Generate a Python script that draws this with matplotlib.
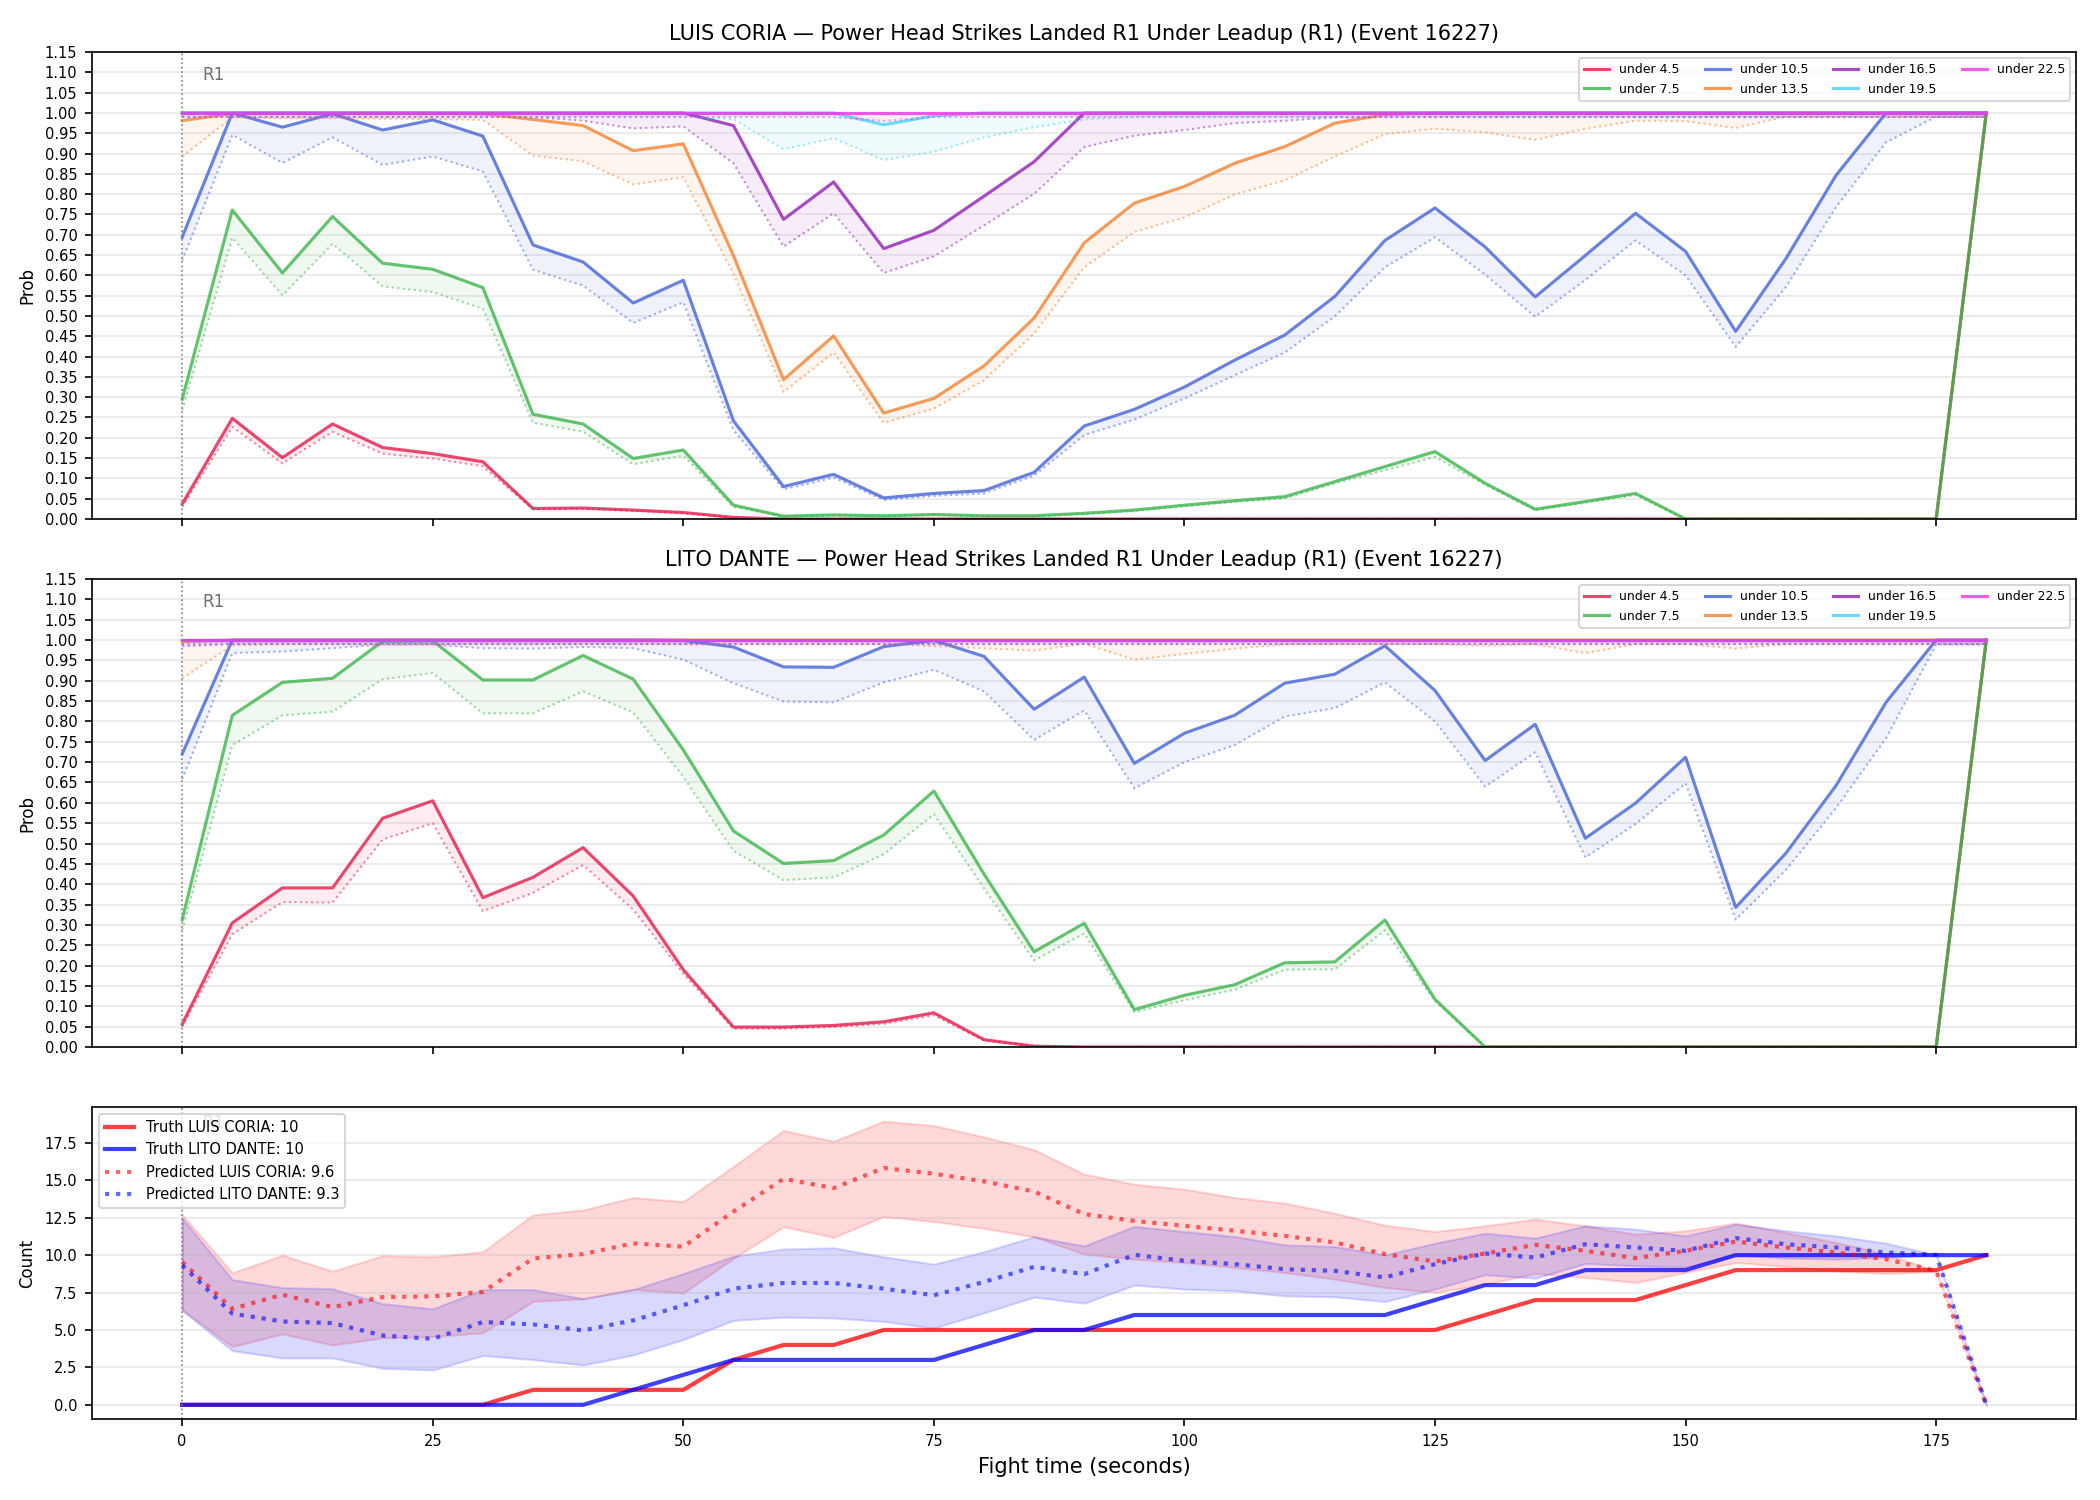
import matplotlib
matplotlib.use("Agg")
import matplotlib.pyplot as plt
from matplotlib.ticker import MultipleLocator
import numpy as np

# ---------------- data ----------------
t = list(range(0, 181, 5))

thresholds = ["under 4.5", "under 7.5", "under 10.5", "under 13.5",
              "under 16.5", "under 19.5", "under 22.5"]
colors = ["#e6194b", "#3cb44b", "#4363d8", "#f58231", "#911eb4", "#42d4f4", "#f032e6"]

# LUIS CORIA: solid (main) and dotted (lower) probabilities
coria_u45 = [0.037, 0.248, 0.151, 0.234, 0.176, 0.161, 0.141, 0.026, 0.027, 0.022, 0.016, 0.004] + [0.0] * 24 + [1.0]
coria_u45_lo = [0.030, 0.227, 0.137, 0.215, 0.161, 0.149, 0.130, 0.024, 0.025, 0.020, 0.014, 0.003] + [0.0] * 24 + [0.99]
coria_u75 = [0.295, 0.761, 0.606, 0.745, 0.630, 0.615, 0.570, 0.258, 0.234, 0.149, 0.170, 0.034,
             0.007, 0.010, 0.008, 0.011, 0.008, 0.008,
             0.014, 0.022, 0.034, 0.045, 0.055, 0.092, 0.129, 0.166, 0.088, 0.024, 0.043, 0.063,
             0.0, 0.0, 0.0, 0.0, 0.0, 0.0, 1.0]
coria_u75_lo = [0.268, 0.693, 0.551, 0.678, 0.573, 0.559, 0.518, 0.237, 0.215, 0.135, 0.156, 0.030,
                0.006, 0.009, 0.007, 0.010, 0.007, 0.007,
                0.012, 0.020, 0.031, 0.042, 0.051, 0.088, 0.120, 0.153, 0.084, 0.022, 0.040, 0.059,
                0.0, 0.0, 0.0, 0.0, 0.0, 0.0, 0.99]
coria_u105 = [0.694, 1.0, 0.965, 0.998, 0.958, 0.983, 0.943, 0.675, 0.633, 0.532, 0.588, 0.242,
              0.080, 0.110, 0.052, 0.063, 0.070, 0.115,
              0.229, 0.270, 0.325, 0.391, 0.453, 0.548, 0.686, 0.766, 0.670, 0.547, 0.649, 0.753,
              0.659, 0.462, 0.641, 0.846, 1.0, 1.0, 1.0]
coria_u105_lo = [0.637, 0.946, 0.877, 0.940, 0.872, 0.893, 0.856, 0.614, 0.575, 0.483, 0.534, 0.219,
                 0.073, 0.102, 0.047, 0.057, 0.063, 0.107,
                 0.207, 0.245, 0.297, 0.354, 0.410, 0.499, 0.620, 0.694, 0.602, 0.498, 0.589, 0.686,
                 0.600, 0.424, 0.571, 0.768, 0.928, 0.991, 0.991]
coria_u135 = [0.981, 0.999, 0.999, 0.999, 0.999, 0.999, 0.998, 0.984, 0.969, 0.907, 0.924, 0.649,
              0.343, 0.451, 0.261, 0.297, 0.377, 0.495,
              0.680, 0.778, 0.819, 0.876, 0.917, 0.975, 0.996] + [1.0] * 12
coria_u135_lo = [0.893, 0.989, 0.987, 0.987, 0.986, 0.985, 0.983, 0.895, 0.881, 0.824, 0.842, 0.604,
                 0.313, 0.410, 0.237, 0.272, 0.342, 0.457,
                 0.620, 0.707, 0.743, 0.799, 0.834, 0.893, 0.948, 0.961, 0.952, 0.934, 0.961, 0.981,
                 0.980, 0.963, 0.991, 0.991, 0.991, 0.991, 0.991]
coria_u165 = [1.0] * 11 + [0.969, 0.738, 0.830, 0.666, 0.711, 0.795, 0.880] + [1.0] * 19
coria_u165_lo = [0.99] * 8 + [0.981, 0.962, 0.967, 0.876, 0.671, 0.753, 0.606, 0.647, 0.723, 0.801,
                              0.916, 0.944, 0.958, 0.975, 0.981, 0.989] + [0.99] * 13
coria_u195 = [1.0] * 14 + [0.971, 0.993] + [1.0] * 21
coria_u195_lo = [0.99] * 11 + [0.985, 0.911, 0.938, 0.884, 0.905, 0.940, 0.965, 0.984] + [0.99] * 18
coria_u225 = [1.0] * 37
coria_u225_lo = [0.99] * 14 + [0.98] + [0.99] * 22

# LITO DANTE
dante_u45 = [0.056, 0.305, 0.391, 0.391, 0.562, 0.605, 0.367, 0.417, 0.490, 0.371, 0.190, 0.049,
             0.049, 0.053, 0.062, 0.084, 0.018, 0.002] + [0.0] * 18 + [1.0]
dante_u45_lo = [0.050, 0.277, 0.356, 0.355, 0.510, 0.550, 0.334, 0.379, 0.447, 0.338, 0.180, 0.045,
                0.045, 0.049, 0.057, 0.078, 0.016, 0.002] + [0.0] * 18 + [0.99]
dante_u75 = [0.313, 0.815, 0.896, 0.906, 0.997, 0.998, 0.902, 0.902, 0.962, 0.904, 0.730, 0.531,
             0.451, 0.458, 0.521, 0.629, 0.425, 0.234,
             0.304, 0.092, 0.127, 0.153, 0.207, 0.209, 0.312, 0.117] + [0.0] * 10 + [1.0]
dante_u75_lo = [0.287, 0.742, 0.815, 0.824, 0.904, 0.919, 0.820, 0.820, 0.874, 0.822, 0.664, 0.482,
                0.410, 0.417, 0.474, 0.572, 0.390, 0.213,
                0.279, 0.086, 0.115, 0.141, 0.190, 0.191, 0.287, 0.113] + [0.0] * 10 + [0.99]
dante_u105 = [0.720, 1.0, 1.0, 1.0, 1.0, 1.0, 1.0, 1.0, 1.0, 1.0, 0.999, 0.983,
              0.934, 0.933, 0.984, 0.999, 0.960, 0.830,
              0.909, 0.697, 0.771, 0.815, 0.894, 0.916, 0.986, 0.876, 0.704, 0.793, 0.513, 0.599,
              0.712, 0.343, 0.476, 0.642, 0.847, 1.0, 1.0]
dante_u105_lo = [0.658, 0.968, 0.972, 0.980, 0.989, 0.989, 0.980, 0.979, 0.983, 0.980, 0.952, 0.894,
                 0.849, 0.847, 0.896, 0.927, 0.874, 0.755,
                 0.827, 0.636, 0.700, 0.742, 0.812, 0.833, 0.896, 0.800, 0.640, 0.724, 0.466, 0.548,
                 0.648, 0.313, 0.435, 0.587, 0.759, 0.989, 0.989]
dante_u135 = [0.997] + [1.0] * 36
dante_u135_lo = [0.906, 0.987, 0.99, 0.99, 0.99, 0.99, 0.99, 0.99, 0.99, 0.99, 0.99, 0.99,
                 0.99, 0.99, 0.99, 0.985, 0.980, 0.974,
                 0.991, 0.952, 0.966, 0.979, 0.989, 0.99, 0.99, 0.99, 0.986, 0.99, 0.968, 0.99,
                 0.99, 0.979, 0.99, 0.99, 0.99, 0.99, 0.99]
dante_u165 = [1.0] * 37
dante_u165_lo = [0.985] + [0.99] * 36
dante_u195 = [1.0] * 37
dante_u195_lo = [0.99] * 37
dante_u225 = [1.0] * 37
dante_u225_lo = [0.99] * 37

# Counts
truth_coria = [0, 0, 0, 0, 0, 0, 0, 1, 1, 1, 1, 3, 4, 4, 5, 5, 5, 5, 5, 5, 5, 5, 5, 5, 5, 5,
               6, 7, 7, 7, 8, 9, 9, 9, 9, 9, 10]
truth_dante = [0, 0, 0, 0, 0, 0, 0, 0, 0, 1, 2, 3, 3, 3, 3, 3, 4, 5, 5, 6, 6, 6, 6, 6, 6, 7,
               8, 8, 9, 9, 9, 10, 10, 10, 10, 10, 10]
pred_coria = [9.55, 6.42, 7.36, 6.53, 7.20, 7.25, 7.54, 9.78, 10.07, 10.79, 10.56, 12.91,
              15.10, 14.48, 15.82, 15.44, 14.93, 14.25,
              12.74, 12.29, 11.96, 11.63, 11.29, 10.85, 10.07, 9.58, 10.11, 10.69, 10.29, 9.80,
              10.29, 10.91, 10.51, 10.18, 9.73, 8.95, 0.0]
pred_coria_hi = [12.69, 8.82, 10.0, 8.93, 9.96, 9.89, 10.23, 12.69, 13.02, 13.85, 13.58, 15.93,
                 18.33, 17.61, 18.95, 18.66, 17.90, 17.05,
                 15.41, 14.74, 14.41, 13.85, 13.47, 12.80, 12.0, 11.58, 11.96, 12.41, 11.96, 11.40,
                 11.63, 12.14, 11.51, 10.85, 10.07, 8.95, 0.0]
pred_coria_lo = [6.35, 3.89, 4.74, 4.0, 4.47, 4.56, 4.81, 6.91, 7.09, 7.70, 7.47, 9.78,
                 11.90, 11.19, 12.58, 12.24, 11.79, 11.23,
                 10.07, 9.73, 9.51, 9.18, 8.84, 8.40, 7.84, 7.51, 8.06, 8.77, 8.51, 8.17,
                 8.84, 9.51, 9.24, 8.95, 8.77, 8.91, 0.0]
pred_dante = [9.33, 6.09, 5.57, 5.46, 4.63, 4.41, 5.53, 5.37, 4.97, 5.64, 6.65, 7.76,
              8.14, 8.14, 7.76, 7.32, 8.21, 9.22,
              8.73, 10.02, 9.62, 9.40, 9.06, 8.95, 8.51, 9.40, 10.11, 9.84, 10.73, 10.51,
              10.29, 11.14, 10.73, 10.51, 10.18, 10.02, 0.0]
pred_dante_hi = [12.46, 8.37, 7.83, 7.76, 6.76, 6.42, 7.70, 7.70, 7.09, 7.70, 8.77, 9.93,
                 10.41, 10.49, 9.89, 9.40, 10.23, 11.23,
                 10.62, 11.92, 11.58, 11.25, 10.69, 10.58, 10.02, 10.80, 11.47, 11.14, 11.96, 11.74,
                 11.29, 12.07, 11.63, 11.29, 10.80, 10.02, 0.0]
pred_dante_lo = [6.31, 3.62, 3.13, 3.13, 2.44, 2.33, 3.29, 3.02, 2.66, 3.33, 4.36, 5.64,
                 5.86, 5.80, 5.57, 5.12, 6.15, 7.20,
                 6.79, 8.0, 7.73, 7.62, 7.28, 7.22, 6.90, 7.73, 8.69, 8.46, 9.44, 9.29,
                 9.18, 10.02, 9.80, 9.73, 9.84, 10.02, 0.0]

coria_main = [coria_u45, coria_u75, coria_u105, coria_u135, coria_u165, coria_u195, coria_u225]
coria_low = [coria_u45_lo, coria_u75_lo, coria_u105_lo, coria_u135_lo, coria_u165_lo, coria_u195_lo, coria_u225_lo]
dante_main = [dante_u45, dante_u75, dante_u105, dante_u135, dante_u165, dante_u195, dante_u225]
dante_low = [dante_u45_lo, dante_u75_lo, dante_u105_lo, dante_u135_lo, dante_u165_lo, dante_u195_lo, dante_u225_lo]

# ---------------- figure ----------------
fig = plt.figure(figsize=(14, 10), dpi=150)
L, W = 0.0438, 0.945
ax1 = fig.add_axes([L, 0.654, W, 0.3113])
ax2 = fig.add_axes([L, 0.302, W, 0.312], sharex=ax1)
ax3 = fig.add_axes([L, 0.054, W, 0.208], sharex=ax1)


def prob_panel(ax, mains, lows, title):
    for name, c, m, lo in zip(thresholds, colors, mains, lows):
        ax.fill_between(t, lo, m, color=c, alpha=0.08, linewidth=0)
        ax.plot(t, m, color=c, lw=1.5, alpha=0.8, label=name)
        ax.plot(t, lo, color=c, lw=1.0, alpha=0.5, linestyle=":")
    ax.set_ylim(0, 1.15)
    ax.yaxis.set_major_locator(MultipleLocator(0.05))
    ax.set_ylabel("Prob", fontsize=8)
    ax.set_title(title, fontsize=10)
    ax.grid(axis="y", alpha=0.3)
    ax.axvline(0, color="gray", linestyle=":", lw=0.8)
    ax.text(2, 0.95, "R1", transform=ax.get_xaxis_transform(), color="#707070",
            fontsize=8, va="center", ha="left")
    ax.tick_params(labelsize=7)
    ax.tick_params(axis="x", labelbottom=False)
    ax.legend(loc="upper right", ncol=4, fontsize=6, framealpha=0.8)


prob_panel(ax1, coria_main, coria_low,
           "LUIS CORIA — Power Head Strikes Landed R1 Under Leadup (R1) (Event 16227)")
prob_panel(ax2, dante_main, dante_low,
           "LITO DANTE — Power Head Strikes Landed R1 Under Leadup (R1) (Event 16227)")

ax3.fill_between(t, pred_coria_lo, pred_coria_hi, color="red", alpha=0.15)
ax3.fill_between(t, pred_dante_lo, pred_dante_hi, color="blue", alpha=0.15)
ax3.plot(t, truth_coria, color="red", lw=2, alpha=0.75, label="Truth LUIS CORIA: 10")
ax3.plot(t, truth_dante, color="blue", lw=2, alpha=0.75, label="Truth LITO DANTE: 10")
ax3.plot(t, pred_coria, color="red", lw=2, alpha=0.6, linestyle=":", label="Predicted LUIS CORIA: 9.6")
ax3.plot(t, pred_dante, color="blue", lw=2, alpha=0.6, linestyle=":", label="Predicted LITO DANTE: 9.3")
ax3.axvline(0, color="gray", linestyle=":", lw=0.8)
ax3.text(2, 0.95, "R1", transform=ax3.get_xaxis_transform(), color="#707070",
         fontsize=8, va="center", ha="left")
ax3.yaxis.set_major_locator(MultipleLocator(2.5))
ax3.set_ylabel("Count", fontsize=8)
ax3.set_xlabel("Fight time (seconds)", fontsize=10)
ax3.grid(axis="y", alpha=0.3)
ax3.tick_params(labelsize=7)
ax3.legend(loc="upper left", fontsize=7, framealpha=0.8)

fig.savefig("out.png", dpi=150)
